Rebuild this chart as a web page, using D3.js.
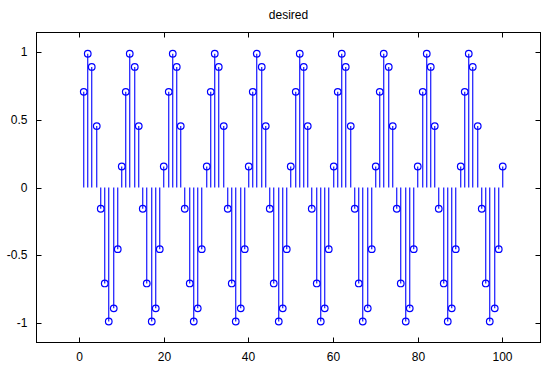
<!DOCTYPE html>
<html><head><meta charset="utf-8">
<script src="https://cdn.jsdelivr.net/npm/d3@7"></script>
<style>body{margin:0;background:#fff}svg{display:block}</style>
</head><body>
<script>
const nValues = [1,2,3,4,5,6,7,8,9,10,11,12,13,14,15,16,17,18,19,20,21,22,23,24,25,26,27,28,29,30,31,32,33,34,35,36,37,38,39,40,41,42,43,44,45,46,47,48,49,50,51,52,53,54,55,56,57,58,59,60,61,62,63,64,65,66,67,68,69,70,71,72,73,74,75,76,77,78,79,80,81,82,83,84,85,86,87,88,89,90,91,92,93,94,95,96,97,98,99,100];
const desired = [
0.707,0.988,0.891,0.454,-0.156,-0.707,-0.988,-0.891,-0.454,0.156,
0.707,0.988,0.891,0.454,-0.156,-0.707,-0.988,-0.891,-0.454,0.156,
0.707,0.988,0.891,0.454,-0.156,-0.707,-0.988,-0.891,-0.454,0.156,
0.707,0.988,0.891,0.454,-0.156,-0.707,-0.988,-0.891,-0.454,0.156,
0.707,0.988,0.891,0.454,-0.156,-0.707,-0.988,-0.891,-0.454,0.156,
0.707,0.988,0.891,0.454,-0.156,-0.707,-0.988,-0.891,-0.454,0.156,
0.707,0.988,0.891,0.454,-0.156,-0.707,-0.988,-0.891,-0.454,0.156,
0.707,0.988,0.891,0.454,-0.156,-0.707,-0.988,-0.891,-0.454,0.156,
0.707,0.988,0.891,0.454,-0.156,-0.707,-0.988,-0.891,-0.454,0.156,
0.707,0.988,0.891,0.454,-0.156,-0.707,-0.988,-0.891,-0.454,0.156];
const xTicks = [0,20,40,60,80,100];
const yTicks = [-1,-0.5,0,0.5,1];
const yTickLabels = ["-1","-0.5","0","0.5","1"];
const titleText = "desired";

const W = 542, H = 369;
const L = 36.5, R = 540.5, T = 32.5, B = 342.5;
const svg = d3.select("body").append("svg").attr("width", W).attr("height", H);
const x = d3.scaleLinear().domain([-10.08, 108.98]).range([L, R]);
const y = d3.scaleLinear().domain([-1.143, 1.145]).range([B, T]);
const px = v => Math.round(v - 0.5) + 0.5;

const font = "'Liberation Sans', Arial, sans-serif";
const col = "#0000ff";

// stems
const g = svg.append("g");
g.selectAll("line.stem").data(nValues).join("line")
  .attr("class", "stem")
  .attr("x1", n => Math.floor(x(n)) + 0.75).attr("x2", n => Math.floor(x(n)) + 0.75)
  .attr("y1", px(y(0))).attr("y2", (n, i) => y(desired[i]))
  .attr("stroke", col).attr("stroke-width", 1.1);
g.selectAll("circle").data(nValues).join("circle")
  .attr("cx", n => Math.floor(x(n)) + 0.75).attr("cy", (n, i) => y(desired[i]))
  .attr("r", 3.3).attr("fill", "none").attr("stroke", col).attr("stroke-width", 1.2);

// frame
svg.append("rect").attr("x", L).attr("y", T).attr("width", R - L).attr("height", B - T)
  .attr("fill", "none").attr("stroke", "#000").attr("stroke-width", 1);

// axes (ticks inward)
const xa = svg.append("g").attr("transform", `translate(0,${B})`)
  .call(d3.axisBottom(x).tickValues(xTicks).tickSize(-5).tickPadding(10).tickFormat(d3.format("d")));
const xt = svg.append("g").attr("transform", `translate(0,${T})`)
  .call(d3.axisTop(x).tickValues(xTicks).tickSize(-5).tickFormat(""));
const ya = svg.append("g").attr("transform", `translate(${L},0)`)
  .call(d3.axisLeft(y).tickValues(yTicks).tickSize(-5).tickPadding(9).tickFormat((d, i) => yTickLabels[i]));
const yr = svg.append("g").attr("transform", `translate(${R},0)`)
  .call(d3.axisRight(y).tickValues(yTicks).tickSize(-5).tickFormat(""));
[xa, xt, ya, yr].forEach(a => {
  a.select(".domain").remove();
  a.selectAll(".tick").attr("transform", function() {
    const t = d3.select(this).attr("transform");
    const m = /translate\(([-\d.]+),\s*([-\d.]+)\)/.exec(t);
    return m ? `translate(${m[1] == 0 ? 0 : px(+m[1])},${m[2] == 0 ? 0 : px(+m[2])})` : t;
  });
  a.selectAll("line").attr("stroke", "#000");
  a.selectAll("text").attr("font-family", font).attr("font-size", 12).attr("fill", "#000");
});

svg.append("text").attr("x", (L + R) / 2).attr("y", 19).attr("text-anchor", "middle")
  .attr("font-family", font).attr("font-size", 12).attr("fill", "#000").text(titleText);
</script>
</body></html>
